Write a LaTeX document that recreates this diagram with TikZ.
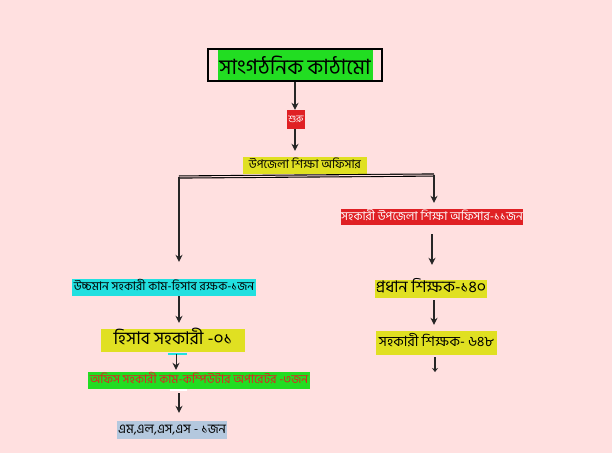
\documentclass[tikz,border=0pt]{standalone}
\usepackage{fontspec}
\newfontfamily\bn[Script=Bengali]{Hind Siliguri}
\usetikzlibrary{arrows.meta}
\definecolor{bgpink}{RGB}{255,224,224}
\definecolor{grn}{RGB}{34,221,34}
\definecolor{rd}{RGB}{224,32,36}
\definecolor{ylw}{RGB}{224,224,34}
\definecolor{cyn}{RGB}{34,224,224}
\definecolor{lblue}{RGB}{180,200,222}
\tikzset{
  box/.style={inner sep=0pt, minimum height=17pt, text height=9pt, text depth=3pt, font=\bn\fontsize{12}{13}\selectfont},
  big/.style={inner sep=0pt, text height=11pt, text depth=4pt, font=\bn\fontsize{16}{17}\selectfont},
  link/.style={line width=1.6pt, draw=black!85}
}
\begin{document}
\begin{tikzpicture}[x=1pt,y=-1pt,>={Stealth[length=7pt,width=7pt]}]
  \fill[bgpink] (0,0) rectangle (612,453);
  \useasboundingbox (0,0) rectangle (612,453);
  \node[draw, line width=1.2pt, minimum width=174pt, minimum height=32pt] (frame) at (295,65) {};
  \node[fill=grn, inner sep=0pt, minimum width=155pt, minimum height=30pt, font=\bn\fontsize{21}{22}\selectfont] (title) at (295,65) {সাংগঠনিক কাঠামো};
  \node[box, fill=rd, text=white, minimum width=18pt, minimum height=19pt, font=\bn\fontsize{10}{11}\selectfont] (start) at (296,119.5) {শুরু};
  \node[box, fill=ylw, minimum width=124pt] (upz) at (305,165.5) {উপজেলা শিক্ষা অফিসার};
  \node[box, fill=rd, text=white, minimum width=182pt, minimum height=16pt] (auo) at (432,217) {সহকারী উপজেলা শিক্ষা অফিসার-১১জন};
  \node[box, fill=cyn, minimum width=184pt] (uch) at (164,287.5) {উচ্চমান সহকারী কাম-হিসাব রক্ষক-১জন};
  \node[big, fill=ylw, minimum width=144pt, minimum height=23pt, font=\bn\fontsize{17.5}{18}\selectfont] (hisab) at (173,340.5) {হিসাব সহকারী -০১\hspace{10pt}};
  \node[box, fill=grn, text=rd, minimum width=222pt] (office) at (199,380.5) {অফিস সহকারী কাম-কম্পিউটার অপারেটর -৩জন};
  \node[box, fill=lblue, minimum width=110pt, minimum height=18pt, font=\bn\fontsize{13}{14}\selectfont] (mlss) at (172,430) {এম,এল,এস,এস - ১জন};
  \node[big, fill=ylw, minimum width=112pt, minimum height=18pt] (head) at (431,289) {প্রধান শিক্ষক-১৪০};
  \node[big, fill=ylw, minimum width=121pt, minimum height=24pt, font=\bn\fontsize{14}{15}\selectfont] (asst) at (436.5,343) {সহকারী শিক্ষক- ৬৪৮};
  \coordinate (jl) at (179,177);
  \coordinate (jr) at (434,175);
  \coordinate (mid) at (176,354);
  \coordinate (tail) at (435,372);
  \draw[link, ->] (frame.south) -- (frame.south |- start.north);
  \draw[link, ->, shorten >=6pt] (frame.south |- start.south) -- (frame.south |- upz.north);
  \draw[black, line width=1.1pt, double=bgpink, double distance=1pt] (jl) -- (jr);
  \draw[link, ->, shorten >=17pt] (jl) -- (jl |- uch.north);
  \draw[link, ->, shorten >=6pt] (jr) -- (jr |- auo.north);
  \draw[link, ->, shorten <=9pt, shorten >=15pt] (auo.south) -- (auo.south |- head.north);
  \draw[link, ->, shorten >=6pt] (uch.south -| jl) -- (jl |- hisab.north);
  \draw[cyn, line width=1.2pt] (168,354) -- (187,354);
  \draw[link, ->, line width=1pt, shorten >=2pt] (mid) -- (mid |- office.north);
  \fill[white] (170,389) rectangle (187,391);
  \draw[link, ->, shorten <=4pt, shorten >=8pt] (office.south -| jl) -- (jl |- mlss.north);
  \draw[link, ->, shorten <=2pt, shorten >=6pt] (head.south -| jr) -- (jr |- asst.north);
  \draw[link, -{Stealth[length=4pt,width=6pt]}, shorten <=2pt] (asst.south -| tail) -- (tail);
\end{tikzpicture}
\end{document}
